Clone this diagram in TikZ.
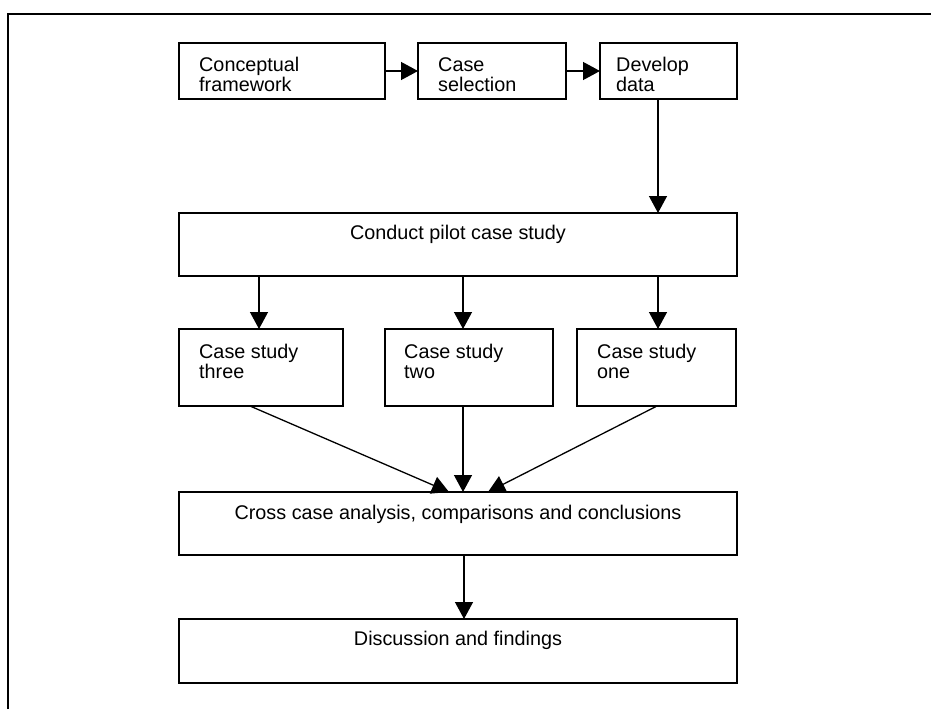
\documentclass[tikz,border=0pt]{standalone}
\usepackage{fontspec}
\setmainfont{Liberation Sans}
\usetikzlibrary{arrows.meta}
\begin{document}
\begin{tikzpicture}[x=1pt,y=-1pt,
  box/.style={draw=black,line width=1.4pt,rectangle,inner sep=0pt,outer sep=0pt,anchor=north west},
  txt/.style={anchor=base west,inner sep=0pt,font=\fontsize{19.8}{20}\selectfont},
  ctxt/.style={anchor=base,inner sep=0pt,font=\fontsize{19.8}{20}\selectfont},
  arr/.style={draw=black,line width=1.3pt,-{Triangle[length=17pt,width=18pt]}},
  frame/.style={draw=black,line width=1.6pt}]
\useasboundingbox (0,0) rectangle (931,709);
\draw[frame] (8,709) -- (8,14) -- (931,14);
% top row
\node[box,minimum width=206pt,minimum height=56pt] (concept) at (179,43) {};
\node[box,minimum width=148pt,minimum height=56pt] (select) at (418,43) {};
\node[box,minimum width=137pt,minimum height=56pt] (develop) at (600,43) {};
\node[txt] (tconcept1) at (199,71) {Conceptual};
\node[txt] (tconcept2) at (199,91) {framework};
\node[txt] (tselect1) at (438,71) {Case};
\node[txt] (tselect2) at (438,91) {selection};
\node[txt] (tdevelop1) at (616,71) {Develop};
\node[txt] (tdevelop2) at (616,91) {data};
% pilot
\node[box,minimum width=558pt,minimum height=63pt] (pilot) at (179,213) {};
\node[ctxt] (tpilot) at (458,239) {Conduct pilot case study};
% case studies
\node[box,minimum width=164pt,minimum height=77pt] (three) at (179,329) {};
\node[box,minimum width=168pt,minimum height=77pt] (two) at (385,329) {};
\node[box,minimum width=159pt,minimum height=77pt] (one) at (577,329) {};
\node[txt] (tthree1) at (199,358) {Case study};
\node[txt] (tthree2) at (199,378) {three};
\node[txt] (ttwo1) at (404,358) {Case study};
\node[txt] (ttwo2) at (404,378) {two};
\node[txt] (tone1) at (597,358) {Case study};
\node[txt] (tone2) at (597,378) {one};
% cross case
\node[box,minimum width=558pt,minimum height=63pt] (cross) at (179,492) {};
\node[ctxt] (tcross) at (458,519) {Cross case analysis, comparisons and conclusions};
% discussion
\node[box,minimum width=558pt,minimum height=64pt] (disc) at (179,619) {};
\node[ctxt] (tdisc) at (458,645) {Discussion and findings};
% connectors
\draw[arr] (concept.east) -- (select.west);
\draw[arr] (select.east) -- (develop.west);
\draw[arr] (develop.south -| 658,0) -- (pilot.north -| 658,0);
\draw[arr] (pilot.south -| 259,0) -- (three.north -| 259,0);
\draw[arr] (pilot.south -| 463,0) -- (two.north -| 463,0);
\draw[arr] (pilot.south -| 658,0) -- (one.north -| 658,0);
\draw[arr] (three.south -| 250,0) -- (cross.north -| 449,0);
\draw[arr] (two.south -| 463,0) -- (cross.north -| 463,0);
\draw[arr] (one.south -| 657,0) -- (cross.north -| 488,0);
\draw[arr] (cross.south -| 464,0) -- (disc.north -| 464,0);
\end{tikzpicture}
\end{document}
